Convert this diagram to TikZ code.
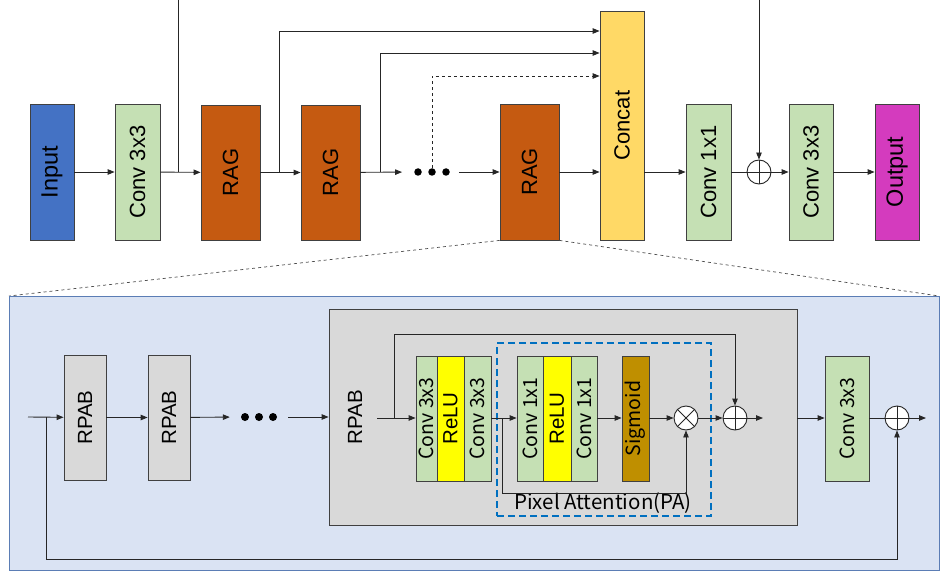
\documentclass[tikz,border=0pt]{standalone}
\usepackage{fontspec}
\setmainfont{Liberation Sans}
\newfontfamily\yh{Noto Sans CJK SC}
\usetikzlibrary{arrows.meta}
\definecolor{cIn}{HTML}{4472C4}
\definecolor{cGr}{HTML}{C5E0B4}
\definecolor{cRag}{HTML}{C55A11}
\definecolor{cCat}{HTML}{FFD966}
\definecolor{cOut}{HTML}{D43BBE}
\definecolor{cPan}{HTML}{DAE3F3}
\definecolor{cPanB}{HTML}{5B7DB5}
\definecolor{cGy}{HTML}{D9D9D9}
\definecolor{cYel}{HTML}{FFFF00}
\definecolor{cSig}{HTML}{BF8F00}
\definecolor{cPA}{HTML}{0070C0}
\tikzset{
  blk/.style={draw=black!75, line width=0.8pt, inner sep=0pt, anchor=center},
  big/.style={blk, font=\fontsize{22}{26}\selectfont},
  sml/.style={blk, font=\yh\fontsize{19.5}{22}\selectfont},
  con/.style={draw=black!85, line width=0.9pt},
  arr/.style={con, -{Triangle[length=7pt,width=5.5pt]}},
  sumc/.style={draw=black!85, line width=0.9pt, fill=white, circle, minimum size=24pt, inner sep=0pt},
  dotc/.style={circle, fill=black, minimum size=7.5pt, inner sep=0pt},
}
\begin{document}
\begin{tikzpicture}[x=1pt,y=-1pt]
\useasboundingbox (0,0) rectangle (940,575);
% ---------- top row ----------
\node[big, fill=cIn, minimum width=44pt, minimum height=136pt, font=\fontsize{23.5}{26}\selectfont] (inp) at (52,172) {\rotatebox{90}{Input}};
\node[big, fill=cGr, minimum width=45pt, minimum height=136pt] (conva) at (137.5,172) {\rotatebox{90}{Conv 3x3}};
\node[big, fill=cRag, minimum width=59pt, minimum height=135pt] (rag1) at (230.5,172.5) {\rotatebox{90}{RAG}};
\node[big, fill=cRag, minimum width=59pt, minimum height=135pt] (rag2) at (330.5,172.5) {\rotatebox{90}{RAG}};
\node[dotc] (d1) at (418,172) {};
\node[dotc] (d2) at (432,172) {};
\node[dotc] (d3) at (446,172) {};
\node[big, fill=cRag, minimum width=59pt, minimum height=136pt] (rag3) at (529.5,172) {\rotatebox{90}{RAG}};
\node[big, fill=cCat, minimum width=44pt, minimum height=229pt] (cat) at (622,125.5) {\rotatebox{90}{Concat}};
\node[big, fill=cGr, minimum width=45pt, minimum height=136pt] (conv1) at (708.5,172) {\rotatebox{90}{Conv 1x1}};
\node[sumc] (p1) at (759,172) {};
\draw[con] (p1.north) -- (p1.south) (p1.west) -- (p1.east);
\node[big, fill=cGr, minimum width=44pt, minimum height=136pt] (conv3) at (811,172) {\rotatebox{90}{Conv 3x3}};
\node[big, fill=cOut, minimum width=44pt, minimum height=136pt, font=\fontsize{23.5}{26}\selectfont] (out) at (897,172) {\rotatebox{90}{Output}};
\coordinate (topA) at (178,-2);
\coordinate (topB) at (759,-2);
\draw[arr] (inp) -- (conva);
\draw[arr] (conva) -- (rag1);
\draw[arr] (rag1) -- (rag2);
\draw[arr, shorten >=12pt] (rag2) -- (d1);
\draw[arr, shorten <=9pt] (d3) -- (rag3.west);
\draw[arr] (rag3) -- (cat.west |- rag3);
\draw[arr] (cat.east |- conv1) -- (conv1);
\draw[con] (conv1) -- (p1);
\draw[arr] (p1) -- (conv3);
\draw[arr] (conv3) -- (out);
\draw[con] (178,172) -- (topA);
\draw[arr] (topB) -- (p1.north);
\draw[arr] (279,172) -- (279,31) -- (cat.west |- 0,31);
\draw[arr] (380,172) -- (380,53) -- (cat.west |- 0,53);
\draw[arr, dashed] (d2.north) -- (432,76) -- (cat.west |- 0,76);
% ---------- zoom lines ----------
\coordinate (zl) at (9,296);
\coordinate (zr) at (939,296);
\draw[con, dashed, draw=black!70, line width=0.7pt] (rag3.south west) -- (zl);
\draw[con, dashed, draw=black!70, line width=0.7pt] (rag3.south east) -- (zr);
% ---------- bottom panel ----------
\node[draw=cPanB, line width=1pt, fill=cPan, inner sep=0pt, minimum width=930pt, minimum height=274pt] (pan) at (474,433) {};
\coordinate (bin) at (28,417);
\node[big, fill=cGy, minimum width=42pt, minimum height=125pt, font=\fontsize{20.5}{24}\selectfont] (rp1) at (85,417.5) {\rotatebox{90}{RPAB}};
\node[big, fill=cGy, minimum width=42pt, minimum height=125pt, font=\fontsize{20.5}{24}\selectfont] (rp2) at (169,417.5) {\rotatebox{90}{RPAB}};
\node[dotc, minimum size=8pt] (e1) at (245,417) {};
\node[dotc, minimum size=8pt] (e2) at (259,417) {};
\node[dotc, minimum size=8pt] (e3) at (273,417) {};
\node[blk, fill=cGy, minimum width=468pt, minimum height=216pt] (rpab) at (563,417) {};
\node[font=\fontsize{20.5}{24}\selectfont, inner sep=0pt] (rpabt) at (355,417) {\rotatebox{90}{RPAB}};
\draw[arr] (bin) -- (rp1);
\draw[arr] (rp1) -- (rp2);
\draw[arr, shorten >=11pt] (rp2) -- (e1);
\draw[arr, shorten <=11pt] (e3) -- (rpab.west |- e3);
% inner blocks
\node[sml, fill=cGr, minimum width=21pt, minimum height=125pt] (c1) at (426.5,418.5) {\rotatebox{90}{Conv 3x3}};
\node[sml, fill=cYel, minimum width=27pt, minimum height=125pt, font=\fontsize{20.5}{24}\selectfont] (r1) at (450.5,418.5) {\rotatebox{90}{ReLU}};
\node[sml, fill=cGr, minimum width=27pt, minimum height=125pt] (c2) at (477.5,418.5) {\rotatebox{90}{Conv 3x3}};
\node[sml, fill=cGr, minimum width=26pt, minimum height=125pt] (c3) at (530,418.5) {\rotatebox{90}{Conv 1x1}};
\node[sml, fill=cYel, minimum width=28pt, minimum height=125pt, font=\fontsize{20.5}{24}\selectfont] (r2) at (557,418.5) {\rotatebox{90}{ReLU}};
\node[sml, fill=cGr, minimum width=26pt, minimum height=125pt] (c4) at (584,418.5) {\rotatebox{90}{Conv 1x1}};
\node[sml, fill=cSig, minimum width=27pt, minimum height=125pt] (sig) at (635.5,418.5) {\rotatebox{90}{Sigmoid}};
\node[sumc] (tm) at (686,418) {};
\draw[con] (tm.north west) -- (tm.south east) (tm.north east) -- (tm.south west);
\node[sumc] (p2) at (735,418) {};
\draw[con] (p2.north) -- (p2.south) (p2.west) -- (p2.east);
\coordinate (o2) at (763,418);
\node[sml, fill=cGr, minimum width=44pt, minimum height=125pt] (c5) at (847,418.5) {\rotatebox{90}{Conv 3x3}};
\node[sumc] (p3) at (897,418) {};
\draw[con] (p3.north) -- (p3.south) (p3.west) -- (p3.east);
\coordinate (o3) at (926,418);
% PA box
\node[draw=cPA, line width=2.2pt, dash pattern=on 7pt off 4pt, minimum width=214pt, minimum height=173pt, inner sep=0pt] (pa) at (604,429.5) {};
\node[font=\yh\fontsize{20.5}{24}\selectfont, inner sep=0pt] (pat) at (603,503) {Pixel Attention(PA)};
% connectors inside
\coordinate (rin) at (377,418);
\draw[arr] (rin) -- (c1.west |- rin);
\draw[arr] (394,418) -- (394,334) -- (735,334) -- (p2.north);
\draw[arr] (c2.east |- rin) -- (c3.west |- rin);
\draw[arr] (502,418) -- (502,493) -- (686,493) -- (tm.south);
\draw[arr] (c4.east |- rin) -- (sig.west |- rin);
\draw[arr] (sig.east |- rin) -- (tm.west);
\draw[arr] (tm.east) -- (p2.west);
\draw[arr] (p2.east) -- (o2);
\draw[arr] (rpab.east |- rin) -- (c5.west |- rin);
\draw[con] (c5.east |- rin) -- (p3.west);
\draw[arr] (p3.east) -- (o3);
\draw[arr] (46,417) -- (46,559) -- (897,559) -- (p3.south);
\end{tikzpicture}
\end{document}
